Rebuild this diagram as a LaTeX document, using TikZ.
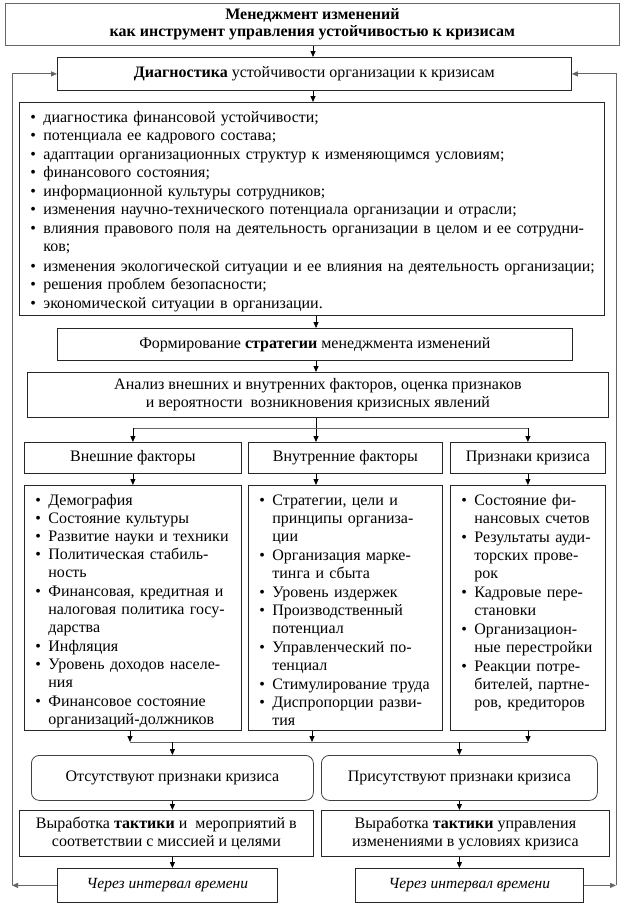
\documentclass[tikz,border=0pt]{standalone}
\usepackage{fontspec}
\setmainfont{Liberation Serif}
\usetikzlibrary{arrows.meta}
\newlength\bi
\setlength\bi{13pt}
\newcommand\itm[1]{\noindent\makebox[\bi][l]{\textbullet}\begin{tabular}[t]{@{}l@{}}#1\end{tabular}\par}
\begin{document}
\begin{tikzpicture}[x=1pt,y=-1pt,
  box/.style={draw=black!85, line width=0.8pt, inner sep=0pt, align=center, anchor=north west, font=\fontsize{16}{18}\selectfont},
  lst/.style={box, align=left, inner xsep=11pt, inner ysep=0pt, text height=20pt},
  rbox/.style={box, rounded corners=8pt, draw=black!75},
  arr/.style={draw=black, line width=0.8pt, -{Triangle[length=6pt,width=5pt]}},
  fb/.style={draw=black!60, line width=0.9pt},
  fbarr/.style={fb, -{Triangle[length=6pt,width=5pt]}},
  ]
\useasboundingbox (0,0) rectangle (624,911);
\fill[white] (0,0) rectangle (624,911);

% top
\node[box, draw=black!60, minimum width=614pt, minimum height=42pt, font=\bfseries\fontsize{16}{17}\selectfont] (title) at (5,3) {Менеджмент изменений\\как инструмент управления устойчивостью к кризисам};
\node[box, minimum width=514pt, minimum height=33pt] (diag) at (57,57) {\textbf{Диагностика} устойчивости организации к кризисам};

\node[lst, text width=563pt, minimum width=585pt, text depth=193pt, font=\fontsize{16}{18.5}\selectfont] (dlist) at (19,102) {%
\itm{диагностика финансовой устойчивости;}%
\itm{потенциала ее кадрового состава;}%
\itm{адаптации организационных структур к изменяющимся условиям;}%
\itm{финансового состояния;}%
\itm{информационной культуры сотрудников;}%
\itm{изменения научно-технического потенциала организации и отрасли;}%
\itm{\makebox[550pt][s]{влияния правового поля на деятельность организации в целом и ее сотрудни-}\\ков;}%
\itm{изменения экологической ситуации и ее влияния на деятельность организации;}%
\itm{решения проблем безопасности;}%
\itm{экономической ситуации в организации.}};

\node[box, minimum width=515pt, minimum height=32pt] (strat) at (57,328) {Формирование \textbf{стратегии} менеджмента изменений};
\node[box, minimum width=581pt, minimum height=45pt] (anal) at (27,372) {Анализ внешних и внутренних факторов, оценка признаков\\и вероятности\ \ возникновения кризисных явлений};

% factor headers
\node[box, minimum width=217pt, minimum height=31pt] (ext) at (24,442) {Внешние факторы};
\node[box, minimum width=194pt, minimum height=31pt] (int) at (248,442) {Внутренние факторы};
\node[box, minimum width=155pt, minimum height=31pt] (sig) at (450,442) {Признаки кризиса};

% factor lists
\node[lst, text width=195pt, minimum width=217pt, text depth=225pt] (extl) at (24,485) {%
\itm{Демография}%
\itm{Состояние культуры}%
\itm{Развитие науки и техники}%
\itm{Политическая стабиль-\\ность}%
\itm{Финансовая, кредитная и\\налоговая политика госу-\\дарства}%
\itm{Инфляция}%
\itm{Уровень доходов населе-\\ния}%
\itm{Финансовое состояние\\организаций-должников}};
\node[lst, text width=172pt, minimum width=194pt, text depth=225pt] (intl) at (248,485) {%
\itm{Стратегии, цели и\\принципы организа-\\ции}%
\itm{Организация марке-\\тинга и сбыта}%
\itm{Уровень издержек}%
\itm{Производственный\\потенциал}%
\itm{Управленческий по-\\тенциал}%
\itm{Стимулирование труда}%
\itm{Диспропорции разви-\\тия}};
\node[lst, text width=133pt, minimum width=155pt, text depth=225pt] (sigl) at (450,485) {%
\itm{Состояние фи-\\нансовых счетов}%
\itm{Результаты ауди-\\торских прове-\\рок}%
\itm{Кадровые пере-\\становки}%
\itm{Организацион-\\ные перестройки}%
\itm{Реакции потре-\\бителей, партне-\\ров, кредиторов}};

% outcomes
\node[rbox, minimum width=282pt, minimum height=45pt] (no) at (31,755) {Отсутствуют признаки кризиса};
\node[rbox, minimum width=276pt, minimum height=45pt] (yes) at (321,755) {Присутствуют признаки кризиса};
\node[box, minimum width=294pt, minimum height=46pt] (tno) at (19,810) {Выработка \textbf{тактики} и\ \ мероприятий в\\соответствии с миссией и целями};
\node[box, minimum width=288pt, minimum height=46pt] (tyes) at (321,810) {Выработка \textbf{тактики} управления\\изменениями в условиях кризиса};
\node[box, minimum width=220pt, minimum height=34pt, font=\itshape\fontsize{15.5}{17}\selectfont] (cl) at (57,868) {Через интервал времени};
\node[box, minimum width=228pt, minimum height=34pt, font=\itshape\fontsize{15.5}{17}\selectfont] (cr) at (355,868) {Через интервал времени};

% coordinates
\coordinate (c0) at (313,0);
\coordinate (c1) at (316,0);
\coordinate (s) at (316,428);
\coordinate (j1) at (130,742);
\coordinate (j2) at (312,742);
\coordinate (j3) at (528,742);
\coordinate (fl) at (12,0);
\coordinate (fr) at (616,0);

% main flow
\draw[arr] (title.south -| c0) -- (diag.north -| c0);
\draw[arr] (diag.south -| c0) -- (dlist.north -| c0);
\draw[arr] (dlist.south -| c1) -- (strat.north -| c1);
\draw[arr] (strat.south -| c1) -- (anal.north -| c1);
\draw[arr] (anal.south -| c1) -- (int.north -| c1);
\draw[fb] (s -| ext.north) -- (s -| sig.north);
\draw[arr] (s -| ext.north) -- (ext.north);
\draw[arr] (s -| sig.north) -- (sig.north);
\draw[arr] (ext.south) -- (extl.north);
\draw[arr] (int.south -| c1) -- (intl.north -| c1);
\draw[arr] (sig.south) -- (sigl.north);

\draw[arr] (extl.south -| j1) -- (j1);
\draw[arr] (intl.south -| j2) -- (j2);
\draw[arr] (sigl.south -| j3) -- (j3);
\draw[fb] (j1) -- (j3);
\draw[arr] (j1 -| no.north) -- (no.north);
\draw[arr] (j1 -| yes.north) -- (yes.north);
\draw[arr] (no.south) -- (no.south |- tno.north);
\draw[arr] (yes.south) -- (yes.south |- tyes.north);
\draw[arr] (no.south |- tno.south) -- (no.south |- cl.north);
\draw[arr] (yes.south |- tyes.south) -- (yes.south |- cr.north);

% feedback loops
\draw[fbarr] (cl.west) -- (cl.west -| fl);
\draw[fbarr] (cl.west -| fl) -- (diag.west -| fl) -- (diag.west);
\draw[fbarr] (cr.east) -- (cr.east -| fr);
\draw[fbarr] (cr.east -| fr) -- (diag.east -| fr) -- (diag.east);
\end{tikzpicture}
\end{document}
